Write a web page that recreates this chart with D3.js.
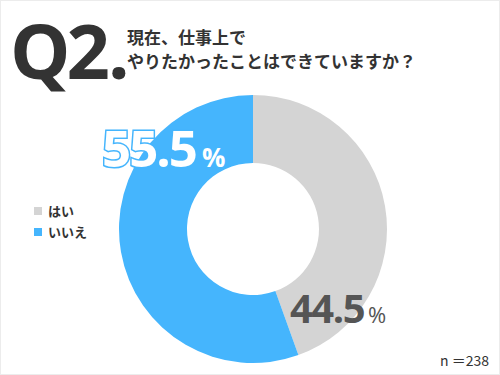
<!DOCTYPE html>
<html>
<head>
<meta charset="utf-8">
<script src="https://cdn.jsdelivr.net/npm/d3@7"></script>
<style>
  body { margin: 0; background: #fff; }
  svg { display: block; font-family: "Open Sans", "Noto Sans CJK JP", sans-serif; }
</style>
</head>
<body>
<div id="chart"></div>
<script>
// chart data
const categories = ["はい", "いいえ"];
const values = [44.5, 55.5];
const colors = ["#d4d4d4", "#45b5fd"];
const titleLines = ["現在、仕事上で", "やりたかったことはできていますか？"];
const sampleNote = "n ＝238";

const width = 500, height = 375;

const svg = d3.select("#chart").append("svg")
    .attr("width", width)
    .attr("height", height);

// light frame
svg.append("rect")
    .attr("x", 0.5).attr("y", 0.5)
    .attr("width", width - 1).attr("height", height - 1)
    .attr("fill", "none")
    .attr("stroke", "#ececec");

// title block
const q = svg.append("text")
    .attr("x", 10)
    .attr("y", 79)
    .attr("font-weight", 700)
    .attr("fill", "#333");
q.append("tspan")
    .attr("font-size", 76)
    .attr("letter-spacing", -4)
    .text("Q2");
q.append("tspan")
    .attr("dx", 2)
    .attr("font-size", 76)
    .text(".");

svg.selectAll(".title-line")
    .data(titleLines)
    .enter().append("text")
    .attr("class", "title-line")
    .attr("x", 127)
    .attr("y", (d, i) => 44 + i * 24)
    .attr("font-size", 17)
    .attr("font-weight", 700)
    .attr("font-family", "'Noto Sans CJK JP', sans-serif")
    .attr("fill", "#333")
    .text(d => d);

// donut
const cx = 253, cy = 229;
const outerR = 134, innerR = 66;

const pie = d3.pie().sort(null).value(d => d);
const arc = d3.arc().innerRadius(innerR).outerRadius(outerR);

const g = svg.append("g").attr("transform", `translate(${cx},${cy})`);

g.selectAll("path")
    .data(pie(values))
    .enter().append("path")
    .attr("d", arc)
    .attr("fill", (d, i) => colors[i]);

// value labels
const lblNo = svg.append("text")
    .attr("x", 102)
    .attr("y", 167)
    .attr("font-weight", 700);
lblNo.append("tspan")
    .attr("font-size", 51)
    .attr("letter-spacing", -2)
    .attr("fill", "#fff")
    .attr("stroke", colors[1])
    .attr("stroke-width", 3)
    .attr("paint-order", "stroke")
    .text(values[1].toFixed(1));
lblNo.append("tspan")
    .attr("dx", 6)
    .attr("font-size", 26)
    .attr("fill", "#fff")
    .text("%");

const lblYes = svg.append("text")
    .attr("x", 290)
    .attr("y", 323)
    .attr("font-weight", 700)
    .attr("fill", "#555");
lblYes.append("tspan")
    .attr("font-size", 40)
    .attr("letter-spacing", -1.5)
    .text(values[0].toFixed(1));
lblYes.append("tspan")
    .attr("dx", 4)
    .attr("font-size", 22)
    .attr("font-weight", 400)
    .text("%");

// legend
const legend = svg.selectAll(".legend")
    .data(categories)
    .enter().append("g")
    .attr("class", "legend")
    .attr("transform", (d, i) => `translate(34, ${207 + i * 21})`);

legend.append("rect")
    .attr("width", 8)
    .attr("height", 8)
    .attr("fill", (d, i) => colors[i]);

legend.append("text")
    .attr("x", 14)
    .attr("y", 9)
    .attr("font-size", 13)
    .attr("font-weight", 700)
    .attr("font-family", "'Noto Sans CJK JP', sans-serif")
    .attr("fill", "#333")
    .text(d => d);

// sample size
svg.append("text")
    .attr("x", 489)
    .attr("y", 366)
    .attr("text-anchor", "end")
    .attr("font-size", 14)
    .attr("font-family", "'Noto Sans CJK JP', sans-serif")
    .attr("fill", "#333")
    .text(sampleNote);
</script>
</body>
</html>
